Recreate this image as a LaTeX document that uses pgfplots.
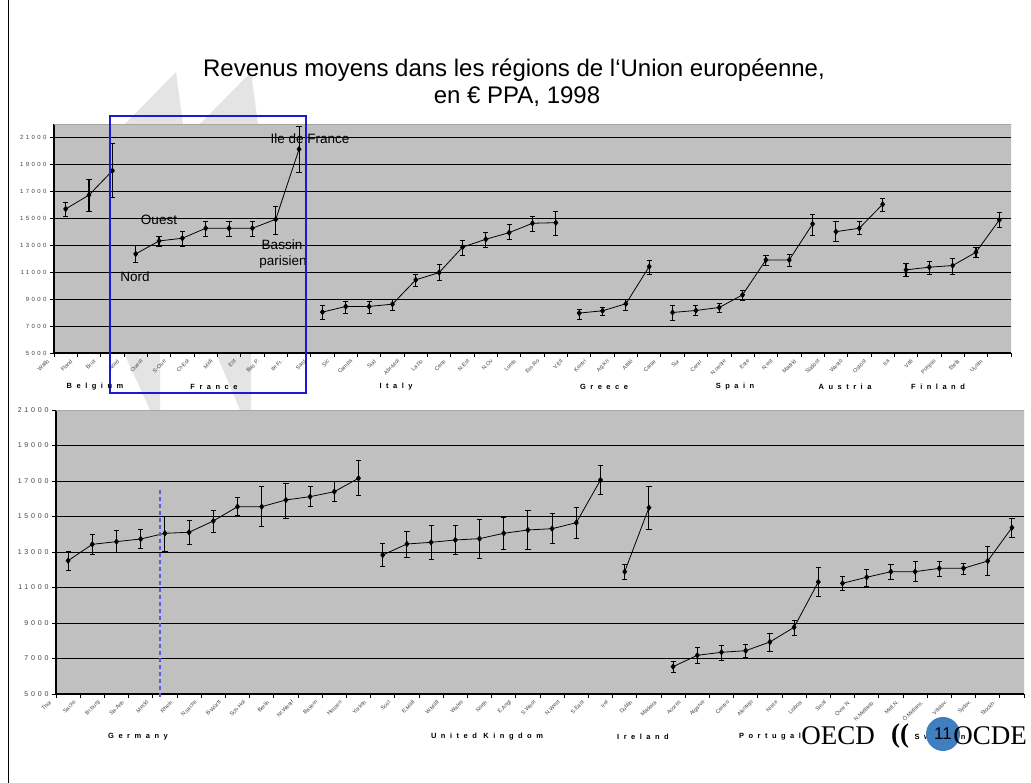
\documentclass[border=0pt]{standalone}
\usepackage{fontspec}
\setmainfont{Liberation Sans}
\newfontfamily\oecdserif{Liberation Serif}
\newfontfamily\spacedfont[LetterSpace=40]{Liberation Sans}
\newfontfamily\groupfont[LetterSpace=60]{Liberation Sans}
\usepackage{pgfplots}
\pgfplotsset{compat=1.18}
\definecolor{plotgray}{HTML}{C0C0C0}
\definecolor{tickgray}{HTML}{404040}
\definecolor{frameblue}{HTML}{1A1AD0}
\definecolor{dashblue}{HTML}{5A5AE6}
\definecolor{oecdblue}{HTML}{3F7FC0}
\definecolor{chev}{HTML}{E4E4E4}
\pgfplotsset{
  eu/.style={
    scale only axis,
    anchor=south west,
    axis background/.style={fill=plotgray},
    axis x line*=bottom, axis y line*=left,
    axis line style={black, line width=1.1pt},
    ymajorgrids, grid style={black, line width=0.7pt},
    tick align=outside,
    major tick length=4pt, minor tick length=4pt,
    major x tick style={draw=none},
    minor x tick style={black, line width=0.8pt},
    major y tick style={black, line width=0.8pt},
    ytick={5000,7000,...,21000},
    scaled y ticks=false,
    yticklabel={\pgfmathprintnumber[fixed,precision=0,1000 sep={},assume math mode=true]{\tick}},
    yticklabel style={font=\spacedfont\fontsize{6}{7}\selectfont, text=tickgray},
    xticklabel style={font=\fontsize{5.5}{6}\selectfont, text=tickgray, xshift=-15pt, yshift=-1pt, rotate=45, anchor=east},
  },
  ser/.style={black, line width=0.8pt, mark=diamond*, mark size=2.6pt,
    mark options={solid, fill=black},
    error bars/.cd, y dir=both, y explicit,
    error bar style={line width=1.1pt, black}},
}
\begin{document}
\begin{tikzpicture}
\path[use as bounding box] (0pt,0pt) rectangle (1031pt,783pt);
% slide decorations
\fill[chev] (176pt,711pt) -- (125pt,659pt) -- (183pt,659pt) -- cycle;
\fill[chev] (251pt,711pt) -- (200pt,659pt) -- (258pt,659pt) -- cycle;
\fill[chev] (124pt,430pt) -- (160pt,430pt) -- (160pt,373pt) -- (150pt,373pt) -- cycle;
\fill[chev] (216pt,430pt) -- (251pt,430pt) -- (251pt,373pt) -- (240pt,373pt) -- cycle;
\draw[black, line width=1pt] (8pt,0pt) -- (8pt,783pt);
% title
\node[font=\fontsize{24}{28}\selectfont] at (514pt,713pt) {Revenus moyens dans les régions de l‘Union européenne,};
\node[font=\fontsize{24}{28}\selectfont] at (517pt,686pt) {en € PPA, 1998};
% top axis
\begin{axis}[eu, at={(54pt,430pt)}, width=957pt, height=229pt,
  xmin=-0.5, xmax=40.5, ymin=5000, ymax=22000,
  xtick={0,...,40}, minor xtick={-0.5,0.5,...,40.5},
  xticklabels={Wallo,Fland,Brux,Nord,Ouest,S-Oue,Ct-Est,Midi,Est,Bas P.,Ile Fr.,Sard,Sic,Campa,Sud,Abr-Mol,Lazio,Centr,N.Est,N.Ov,Lomb,Em-Ro,V.Ell,Kentri,Ag.Kri,Attiki,Canar,Sur,Centr.,N.oeste,Este,N.est,Madrid,Südöst,Westö,Ostöst,Ita,Väli,Pohjois,Etelä,Uusim}]
\draw[gray!70, line width=0.8pt] (rel axis cs:0,1) -- (rel axis cs:1,1) -- (rel axis cs:1,0);
\addplot[ser] coordinates {(0,15690) += (0,540) -= (0,520) (1,16725) += (0,1165) -= (0,1185) (2,18525) += (0,2030) -= (0,1970)};
\addplot[ser] coordinates {(3,12355) += (0,615) -= (0,615) (4,13318) += (0,372) -= (0,418) (5,13518) += (0,489) -= (0,568) (6,14260) += (0,540) -= (0,570) (7,14260) += (0,540) -= (0,570) (8,14260) += (0,540) -= (0,570) (9,14925) += (0,1008) -= (0,1085) (10,20133) += (0,1727) -= (0,1683)};
\addplot[ser] coordinates {(11,8037) += (0,540) -= (0,519) (12,8452) += (0,422) -= (0,489) (13,8452) += (0,422) -= (0,489) (14,8627) += (0,373) -= (0,420) (15,10430) += (0,444) -= (0,497) (16,10970) += (0,622) -= (0,593) (17,12852) += (0,488) -= (0,572) (18,13444) += (0,489) -= (0,570) (19,13933) += (0,622) -= (0,467) (20,14630) += (0,540) -= (0,623) (21,14675) += (0,865) -= (0,912)};
\addplot[ser] coordinates {(22,7963) += (0,297) -= (0,423) (23,8133) += (0,244) -= (0,348) (24,8652) += (0,370) -= (0,445) (25,11415) += (0,495) -= (0,541)};
\addplot[ser] coordinates {(26,8008) += (0,569) -= (0,541) (27,8156) += (0,370) -= (0,319) (28,8377) += (0,323) -= (0,369) (29,9318) += (0,371) -= (0,370) (30,11910) += (0,370) -= (0,420) (31,11910) += (0,445) -= (0,444) (32,14580) += (0,740) -= (0,870)};
\addplot[ser] coordinates {(33,14007) += (0,741) -= (0,689) (34,14260) += (0,488) -= (0,445) (35,16037) += (0,489) -= (0,548)};
\addplot[ser] coordinates {(36,11170) += (0,496) -= (0,444) (37,11370) += (0,415) -= (0,496) (38,11490) += (0,547) -= (0,616) (39,12480) += (0,372) -= (0,370) (40,14874) += (0,541) -= (0,541)};
\end{axis}
% bottom axis
\begin{axis}[eu, at={(56pt,89pt)}, width=968pt, height=284pt,
  xmin=-0.5, xmax=39.5, ymin=5000, ymax=21000,
  yticklabel style={font=\spacedfont\fontsize{7}{8}\selectfont},
  xtick={0,...,39}, minor xtick={-0.5,0.5,...,39.5},
  xticklabels={Thür,Sachs,Br.burg,Sa-Anh,Meckl,Rhein,N.sachs,B-Württ,Sch-Hol,Berlin,Nr.Westf,Bayern,Hessen,Yorksh,Scot,E.Midl,W.Midl,Wales,North,E.Angl,S.West,N.West,S.East,Irel,Dublin,Madeira,Acores,Algarve,Centro,Alentejo,Norte,Lisboa,Smal,Övre N.,N.Mellanb.,Mell.N.,Ö.Mellans.,Västsv.,Sydsv.,Stockh.}]
\draw[gray!70, line width=0.8pt] (rel axis cs:0,1) -- (rel axis cs:1,1) -- (rel axis cs:1,0);
\addplot[ser] coordinates {(0,12511) += (0,507) -= (0,525) (1,13432) += (0,543) -= (0,544) (2,13583) += (0,617) -= (0,600) (3,13733) += (0,524) -= (0,524) (4,14053) += (0,976) -= (0,1035) (5,14110) += (0,654) -= (0,659) (6,14747) += (0,602) -= (0,659) (7,15553) += (0,507) -= (0,507) (8,15553) += (0,1127) -= (0,1127) (9,15930) += (0,941) -= (0,1031) (10,16117) += (0,563) -= (0,564) (11,16398) += (0,602) -= (0,564) (12,17152) += (0,993) -= (0,980)};
\addplot[ser] coordinates {(13,12831) += (0,637) -= (0,638) (14,13451) += (0,694) -= (0,732) (15,13545) += (0,976) -= (0,956) (16,13676) += (0,845) -= (0,828) (17,13751) += (0,1092) -= (0,1106) (18,14053) += (0,902) -= (0,884) (19,14240) += (0,1109) -= (0,1071) (20,14313) += (0,845) -= (0,845) (21,14651) += (0,868) -= (0,862) (22,17057) += (0,806) -= (0,806)};
\addplot[ser] coordinates {(23,11891) += (0,396) -= (0,431) (24,15496) += (0,1184) -= (0,1217)};
\addplot[ser] coordinates {(25,6540) += (0,282) -= (0,319) (26,7180) += (0,430) -= (0,452) (27,7349) += (0,412) -= (0,433) (28,7440) += (0,338) -= (0,374) (29,7930) += (0,490) -= (0,507) (30,8758) += (0,411) -= (0,453) (31,11310) += (0,806) -= (0,826)};
\addplot[ser] coordinates {(32,11237) += (0,411) -= (0,417) (33,11575) += (0,449) -= (0,490) (34,11891) += (0,396) -= (0,412) (35,11891) += (0,585) -= (0,564) (36,12080) += (0,396) -= (0,432) (37,12080) += (0,301) -= (0,338) (38,12493) += (0,845) -= (0,788) (39,14370) += (0,546) -= (0,542)};
\end{axis}
% annotations
\begin{scope}[font=\fontsize{13.5}{15}\selectfont]
\node at (310pt,644pt) {Ile de France};
\node at (159pt,563pt) {Ouest};
\node at (135pt,506pt) {Nord};
\node at (282pt,538pt) {Bassin};
\node at (283pt,521pt) {parisien};
\end{scope}
\draw[frameblue, line width=1.2pt] (110pt,667pt) rectangle (306pt,390pt);
\draw[dashblue, line width=1.5pt, dash pattern=on 4pt off 3pt] (160pt,293pt) -- (160pt,83pt);
% group labels
\begin{scope}[font=\groupfont\bfseries\fontsize{7.5}{9}\selectfont]
\node at (95pt,396pt) {Belgium};
\node at (214pt,396pt) {France};
\node at (396pt,396pt) {Italy};
\node at (604pt,396pt) {Greece};
\node at (735pt,396pt) {Spain};
\node at (845pt,396pt) {Austria};
\node at (938pt,396pt) {Finland};
\node at (138pt,46pt) {Germany};
\node at (487pt,46pt) {United Kingdom};
\node at (643pt,46pt) {Ireland};
\node at (770pt,46pt) {Portugal};
\node at (940pt,46pt) {Sweden};
\end{scope}
% OECD logo
\node[font=\oecdserif\fontsize{27}{30}\selectfont] at (838pt,47pt) {OECD};
\node[font=\oecdserif\bfseries\fontsize{27}{30}\selectfont] at (900pt,47pt) {((};
\fill[oecdblue] (943pt,49pt) circle (17pt);
\node[font=\fontsize{17}{20}\selectfont] at (943pt,49pt) {11};
\node[font=\oecdserif\fontsize{27}{30}\selectfont] at (990pt,47pt) {OCDE};
\end{tikzpicture}
\end{document}
